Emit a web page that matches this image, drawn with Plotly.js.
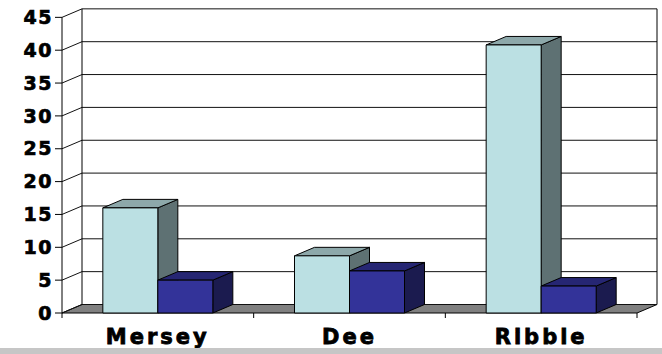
<!DOCTYPE html>
<html>
<head>
<meta charset="utf-8">
<script src="https://cdn.plot.ly/plotly-3.0.1.min.js"></script>
<style>
  html, body { margin: 0; padding: 0; background: #ffffff; overflow: hidden; }
  #chart { width: 662px; height: 354px; position: absolute; left: 0; top: 0; }
  #band { position: absolute; left: 0; top: 348px; width: 662px; height: 6px; background: #c6c6c6; }
  .xtick text { letter-spacing: 3px; stroke: #000; stroke-width: 0.8px; }
  .ytick text { letter-spacing: 1.5px; stroke: #000; stroke-width: 0.7px; }
</style>
</head>
<body>
<div id="chart"></div>
<div id="band"></div>
<script>
// ---- data ----
const categories = ['Mersey', 'Dee', 'Ribble'];
const seriesLight = [16, 8.7, 40.8];
const seriesDark = [5, 6.4, 4.1];
const yTicks = [0, 5, 10, 15, 20, 25, 30, 35, 40, 45];

// ---- styling / geometry constants ----
const colorsLight = { front: '#BBE0E3', top: '#8DA8AA', side: '#5E7173' };
const colorsDark = { front: '#333399', top: '#262673', side: '#1B1B4F' };

const PX = 191.67;   // px per category unit
const PY = 6.57;     // px per value unit
const DX = 20 / PX;  // depth offset, x units
const DY = 8.5 / PY; // depth offset, y units
const BW = 55 / PX;  // bar width
const OFFS = [-BW / 2, BW / 2];
const TICKLEN_Y = 7 / PX;
const TICKLEN_X = 5 / PY;

const n = categories.length;
const xLeft = -0.5, xRight = n - 0.5;
const yMax = yTicks[yTicks.length - 1];

const traces = [];
function poly(xs, ys, fill, lineColor, lw) {
  traces.push({
    type: 'scatter', mode: 'lines', x: xs, y: ys,
    fill: fill ? 'toself' : 'none', fillcolor: fill || undefined,
    line: { color: lineColor || '#000', width: lw || 1 },
    hoverinfo: 'skip', showlegend: false
  });
}

// floor
poly([xLeft, xRight, xRight + DX, xLeft + DX, xLeft],
     [0, 0, DY, DY, 0], '#808080', '#000', 1);

// back wall gridlines + side wall diagonals
{
  const gx = [], gy = [];
  yTicks.forEach(v => {
    gx.push(xLeft, xLeft + DX, xRight + DX, null);
    gy.push(v, v + DY, v + DY, null);
  });
  poly(gx, gy, null, '#111', 1);
}
// back wall left & right edges, front y axis line
poly([xLeft + DX, xLeft + DX, null, xRight + DX, xRight + DX, null, xLeft, xLeft],
     [DY, yMax + DY, null, DY, yMax + DY, null, 0, yMax], null, '#000', 1);

// y tick marks
{
  const tx = [], ty = [];
  yTicks.forEach(v => { tx.push(xLeft - TICKLEN_Y, xLeft, null); ty.push(v, v, null); });
  poly(tx, ty, null, '#000', 1);
}
// x boundary tick marks
{
  const tx = [], ty = [];
  for (let b = 0; b <= n; b++) { tx.push(xLeft + b, xLeft + b, null); ty.push(0, -TICKLEN_X, null); }
  poly(tx, ty, null, '#000', 1);
}

// 3D bars, drawn left to right
for (let i = 0; i < n; i++) {
  [[seriesLight, colorsLight], [seriesDark, colorsDark]].forEach(([vals, col], s) => {
    const v = vals[i];
    const x0 = i + OFFS[s] - BW / 2, x1 = x0 + BW;
    // side
    poly([x1, x1 + DX, x1 + DX, x1, x1], [0, DY, v + DY, v, 0], col.side);
    // top
    poly([x0, x1, x1 + DX, x0 + DX, x0], [v, v, v + DY, v + DY, v], col.top);
    // front
    poly([x0, x1, x1, x0, x0], [0, 0, v, v, 0], col.front);
  });
}

const marginL = 55, marginR = 2, marginT = 5, marginB = 34;
const W = 662, H = 354;
const frontLeftPx = 62, zeroPx = 313;
const xRange = [xLeft - (frontLeftPx - marginL) / PX, xLeft + (W - marginR - frontLeftPx) / PX];
const yRange = [-((H - marginB) - zeroPx) / PY, (zeroPx - marginT) / PY];

const layout = {
  width: W, height: H,
  margin: { l: marginL, r: marginR, t: marginT, b: marginB, pad: 0 },
  paper_bgcolor: 'rgba(0,0,0,0)', plot_bgcolor: 'rgba(0,0,0,0)',
  showlegend: false, hovermode: false,
  xaxis: {
    range: xRange, showgrid: false, zeroline: false, showline: false, ticks: '',
    tickmode: 'array', tickvals: categories.map((c, i) => i), ticktext: categories,
    tickfont: { family: 'DejaVu Sans', size: 21, weight: 'bold', color: '#000' },
    ticklabelstandoff: 2, fixedrange: true
  },
  yaxis: {
    range: yRange, showgrid: false, zeroline: false, showline: false, ticks: '',
    tickmode: 'array', tickvals: yTicks, ticktext: yTicks.map(String),
    tickfont: { family: 'DejaVu Sans', size: 19, weight: 'bold', color: '#000' },
    ticklabelstandoff: 1, fixedrange: true
  }
};

Plotly.newPlot('chart', traces, layout, { staticPlot: true, displayModeBar: false });
</script>
</body>
</html>
